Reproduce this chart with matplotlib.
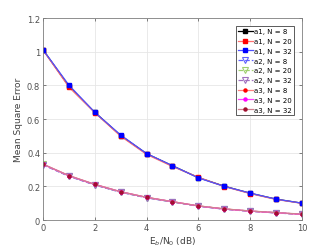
import matplotlib
matplotlib.use("Agg")
import matplotlib.pyplot as plt
import numpy as np

snr = [0, 1, 2, 3, 4, 5, 6, 7, 8, 9, 10]

a1_n8 = [1.012, 0.795, 0.640, 0.502, 0.394, 0.322, 0.252, 0.201, 0.159, 0.124, 0.100]
a1_n20 = [1.010, 0.790, 0.638, 0.498, 0.390, 0.318, 0.254, 0.199, 0.157, 0.122, 0.099]
a1_n32 = [1.012, 0.802, 0.640, 0.505, 0.395, 0.323, 0.250, 0.200, 0.160, 0.124, 0.100]

a2_n8 = [0.328, 0.260, 0.208, 0.165, 0.132, 0.107, 0.082, 0.064, 0.052, 0.042, 0.033]
a2_n20 = [0.330, 0.262, 0.210, 0.166, 0.133, 0.108, 0.083, 0.065, 0.053, 0.043, 0.034]
a2_n32 = [0.329, 0.261, 0.209, 0.166, 0.133, 0.108, 0.083, 0.065, 0.052, 0.043, 0.034]

a3_n8 = [0.332, 0.264, 0.212, 0.168, 0.135, 0.109, 0.084, 0.066, 0.053, 0.043, 0.034]
a3_n20 = [0.331, 0.263, 0.211, 0.168, 0.134, 0.109, 0.083, 0.065, 0.053, 0.043, 0.034]
a3_n32 = [0.332, 0.264, 0.212, 0.168, 0.135, 0.109, 0.084, 0.066, 0.054, 0.044, 0.035]

labels = ["a1, N = 8", "a1, N = 20", "a1, N = 32",
          "a2, N = 8", "a2, N = 20", "a2, N = 32",
          "a3, N = 8", "a3, N = 20", "a3, N = 32"]

fig = plt.figure(figsize=(3.34, 2.51), dpi=100)
ax = fig.add_axes([0.1287, 0.1195, 0.7753, 0.8045])

series = [a1_n8, a1_n20, a1_n32, a2_n8, a2_n20, a2_n32, a3_n8, a3_n20, a3_n32]
styles = [
    dict(color="#000000", ls="-", marker="s", mfc="#000000", mec="#000000", ms=2.2),
    dict(color="#ff7070", ls="-", marker="s", mfc="#ff0000", mec="#ff0000", ms=2.2),
    dict(color="#5050ff", ls="-", marker="s", mfc="#0000ff", mec="#0000ff", ms=2.2),
    dict(color="#6060ff", ls="--", marker="v", mfc="none", mec="#6060ff", ms=4, mew=0.8),
    dict(color="#a0d070", ls="--", marker="v", mfc="none", mec="#a0d070", ms=4, mew=0.8),
    dict(color="#a070c0", ls="--", marker="v", mfc="none", mec="#a070c0", ms=4, mew=0.8),
    dict(color="#ff8080", ls="-", marker="o", mfc="#ff0000", mec="#ff0000", ms=2.2),
    dict(color="#ff40ff", ls="-", marker="o", mfc="#ff00ff", mec="#ff00ff", ms=2.2),
    dict(color="#d08090", ls="-", marker="o", mfc="#a01030", mec="#a01030", ms=2.2),
]
for y, lab, st in zip(series, labels, styles):
    ax.plot(snr, y, label=lab, lw=0.9, **st)

ax.set_xlim(0, 10)
ax.set_ylim(0, 1.2)
ax.set_xticks([0, 2, 4, 6, 8, 10])
ax.set_yticks([0, 0.2, 0.4, 0.6, 0.8, 1.0, 1.2])
ax.set_yticklabels(["0", "0.2", "0.4", "0.6", "0.8", "1", "1.2"])
ax.grid(True, color="#e6e6e6", lw=0.6)
ax.tick_params(direction="in", labelsize=6, length=2.5, width=0.5,
               top=True, right=True, colors="#505050", pad=2)
for s in ax.spines.values():
    s.set_color("#808080")
    s.set_linewidth(0.6)
ax.set_xlabel("E$_b$/N$_0$ (dB)", fontsize=6.5, color="#404040", labelpad=2)
ax.set_ylabel("Mean Square Error", fontsize=6.5, color="#404040", labelpad=3)

leg = ax.legend(loc="upper right", fontsize=5.0, frameon=True, fancybox=False,
                borderpad=0.35, labelspacing=0.55, handlelength=2.1,
                handletextpad=0.2, borderaxespad=1.1, edgecolor="#404040",
                framealpha=1)
leg.get_frame().set_linewidth(0.6)

fig.savefig("out.png", dpi=100)
